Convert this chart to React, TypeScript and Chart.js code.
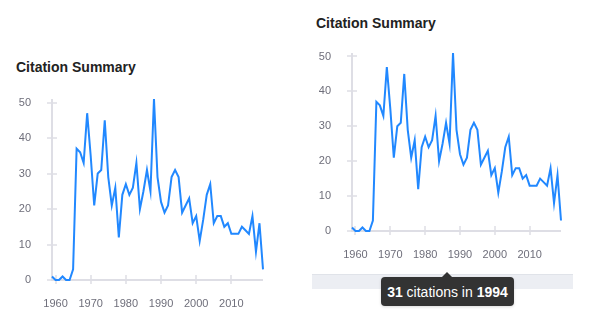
import React, { useEffect, useRef } from "react";
import { Chart, registerables } from "chart.js";

Chart.register(...registerables);

const years = [
  1959, 1960, 1961, 1962, 1963, 1964, 1965, 1966, 1967, 1968,
  1969, 1970, 1971, 1972, 1973, 1974, 1975, 1976, 1977, 1978,
  1979, 1980, 1981, 1982, 1983, 1984, 1985, 1986, 1987, 1988,
  1989, 1990, 1991, 1992, 1993, 1994, 1995, 1996, 1997, 1998,
  1999, 2000, 2001, 2002, 2003, 2004, 2005, 2006, 2007, 2008,
  2009, 2010, 2011, 2012, 2013, 2014, 2015, 2016, 2017, 2018,
  2019,
];
const citations = [
  1, 0, 0, 1, 0, 0, 3, 37, 36, 33,
  47, 35, 21, 30, 31, 45, 29, 21, 26, 12,
  24, 27, 24, 26, 33, 20, 25, 31, 25, 51,
  29, 22, 19, 21, 29, 31, 29, 19, 21, 23,
  16, 18, 11, 17, 24, 27, 16, 18, 18, 15,
  16, 13, 13, 13, 15, 14, 13, 18, 8, 16,
  3,
];
const xTicks = [1960, 1970, 1980, 1990, 2000, 2010];
const yTicks = [0, 10, 20, 30, 40, 50];
const titleText = "Citation Summary";
const tooltipYear = 1994;

const LINE = "rgb(33,136,255)";
const AXIS = "#dedee5";
const LABEL = "#6e6e7a";
const FONT = "'Liberation Sans', Arial, sans-serif";

const crossTicks = {
  id: "crossTicks",
  beforeDatasetsDraw(chart: any) {
    const { ctx, chartArea, scales } = chart;
    const x = scales.x;
    const y = scales.y;
    ctx.save();
    ctx.strokeStyle = AXIS;
    ctx.lineWidth = 2;
    ctx.beginPath();
    const lx = Math.round(chartArea.left);
    const by = Math.round(chartArea.bottom);
    ctx.moveTo(lx, chartArea.top);
    ctx.lineTo(lx, by);
    ctx.lineTo(chartArea.right, by);
    ctx.stroke();
    ctx.lineWidth = 1.5;
    ctx.beginPath();
    for (const v of yTicks) {
      const py = Math.round(y.getPixelForValue(v));
      ctx.moveTo(lx - 5, py);
      ctx.lineTo(lx + 5, py);
    }
    for (const v of xTicks) {
      const px = Math.round(x.getPixelForValue(v));
      ctx.moveTo(px, by - 5);
      ctx.lineTo(px, by + 4);
    }
    ctx.stroke();
    ctx.restore();
  },
};

function LineChart(props: { width: number; height: number; padTop: number; padRight: number }) {
  const ref = useRef<HTMLCanvasElement>(null);
  useEffect(() => {
    const canvas = ref.current!;
    const chart = new Chart(canvas, {
      type: "line",
      data: {
        datasets: [
          {
            data: years.map((yr, i) => ({ x: yr, y: citations[i] })),
            borderColor: LINE,
            borderWidth: 2,
            pointRadius: 0,
            tension: 0,
            fill: false,
            clip: false as any,
          },
        ],
      },
      options: {
        animation: false,
        responsive: false,
        devicePixelRatio: 1,
        layout: { padding: { top: props.padTop, right: props.padRight, left: 0, bottom: 0 } },
        plugins: { legend: { display: false }, tooltip: { enabled: false }, title: { display: false } },
        scales: {
          x: {
            type: "linear",
            min: years[0],
            max: years[years.length - 1],
            grid: { display: false },
            border: { display: false },
            ticks: {
              color: LABEL,
              font: { family: FONT, size: 11 },
              padding: 9,
              maxRotation: 0,
              callback: (v: any) => String(v),
            },
            afterBuildTicks: (s: any) => {
              s.ticks = xTicks.map((v) => ({ value: v }));
            },
            afterFit: (s: any) => {
              s.height = 30;
              s.paddingLeft = 0;
              s.paddingRight = 0;
            },
          },
          y: {
            type: "linear",
            min: 0,
            max: Math.max(...citations),
            grid: { display: false },
            border: { display: false },
            ticks: {
              color: LABEL,
              font: { family: FONT, size: 11 },
              padding: 13,
              callback: (v: any) => String(v),
            },
            afterBuildTicks: (s: any) => {
              s.ticks = yTicks.map((v) => ({ value: v }));
            },
            afterFit: (s: any) => {
              s.width = 52;
              s.paddingTop = 0;
              s.paddingBottom = 0;
            },
          },
        },
      },
      plugins: [crossTicks],
    });
    return () => chart.destroy();
  }, []);
  return <canvas ref={ref} width={props.width} height={props.height} style={{ width: props.width, height: props.height, display: "block" }} />;
}

const titleStyle: React.CSSProperties = {
  position: "absolute",
  fontFamily: FONT,
  fontWeight: 700,
  fontSize: 14,
  lineHeight: "16px",
  color: "#222",
  whiteSpace: "nowrap",
};

export default function App() {
  const idx = years.indexOf(tooltipYear);
  const count = citations[idx];
  return (
    <div style={{ position: "fixed", left: 0, top: 0, width: 608, height: 330, background: "#fff", overflow: "hidden" }}>
      <div style={{ ...titleStyle, left: 16, top: 59 }}>{titleText}</div>
      <div style={{ position: "absolute", left: 0, top: 90 }}>
        <LineChart width={280} height={220} padTop={9} padRight={17} />
      </div>

      <div style={{ ...titleStyle, left: 316, top: 15 }}>{titleText}</div>
      <div style={{ position: "absolute", left: 300, top: 44 }}>
        <LineChart width={280} height={217} padTop={9} padRight={19} />
      </div>

      <div
        style={{
          position: "absolute",
          left: 312,
          top: 274,
          width: 261,
          height: 15,
          background: "#eceef3",
          borderTop: "1px solid #e0e3e9",
          boxSizing: "border-box",
        }}
      />
      <div
        style={{
          position: "absolute",
          left: 442,
          top: 272,
          width: 0,
          height: 0,
          borderLeft: "5px solid transparent",
          borderRight: "5px solid transparent",
          borderBottom: "5px solid #333",
        }}
      />
      <div
        style={{
          position: "absolute",
          left: 381,
          top: 277,
          width: 133,
          height: 29,
          background: "#333",
          borderRadius: 4,
          color: "#fff",
          fontFamily: FONT,
          fontSize: 14,
          display: "flex",
          alignItems: "center",
          justifyContent: "center",
          whiteSpace: "pre",
          boxShadow: "0 1px 3px rgba(0,0,0,0.15)",
        }}
      >
        <b>{String(count)}</b>
        <span>{" citations in "}</span>
        <b>{String(tooltipYear)}</b>
      </div>
    </div>
  );
}
